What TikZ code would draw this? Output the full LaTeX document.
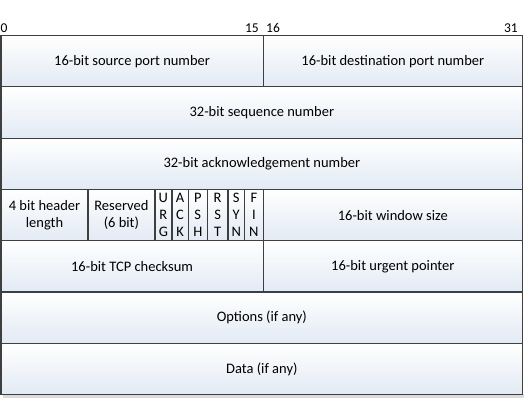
\documentclass[tikz,border=0pt]{standalone}
\usepackage{fontspec}
\setmainfont{Carlito}
\definecolor{cellbot}{HTML}{E2EAF4}
\definecolor{cellline}{HTML}{3F3F3F}
\tikzset{
  cell/.style={draw=cellline, line width=1.2pt, top color=white, bottom color=cellbot,
    inner sep=0pt, align=center, anchor=north west, font=\fontsize{14.5}{17}\selectfont},
  bitlbl/.style={inner sep=0pt, font=\fontsize{13.5}{15}\selectfont}
}
\newcommand\fld[6]{\node[cell, minimum width={#4-#2}, minimum height={#5-#3}] (#1) at (#2,#3) {#6};}
\begin{document}
\begin{tikzpicture}[x=1pt,y=-1pt]
\useasboundingbox (0,0) rectangle (525,414);
% shadow
\fill[black!14] (3,394) rectangle (524,397.5);
% bit labels
\node[bitlbl, anchor=south west] (b0) at (0.5,33) {0};
\node[bitlbl, anchor=south east] (b15) at (259,33) {15};
\node[bitlbl, anchor=south west] (b16) at (266,33) {16};
\node[bitlbl, anchor=south east] (b31) at (518,33) {31};
% row 1
\fld{src}{0.5}{35}{262.5}{86.3}{16-bit source port number}
\fld{dst}{262.5}{35}{522}{86.3}{16-bit destination port number}
% row 2
\fld{seq}{0.5}{86.3}{522}{137.6}{32-bit sequence number}
% row 3
\fld{ack}{0.5}{137.6}{522}{188.9}{32-bit acknowledgement number}
% row 4
\fld{hlen}{0.5}{188.9}{87.3}{240.1}{4 bit header\\length}
\fld{resv}{87.3}{188.9}{154.3}{240.1}{Reserved\\(6 bit)}
\fld{urg}{154.3}{188.9}{171.3}{240.1}{U\\R\\G}
\fld{ackf}{171.3}{188.9}{187.7}{240.1}{A\\C\\K}
\fld{psh}{187.7}{188.9}{206.7}{240.1}{P\\S\\H}
\fld{rst}{206.7}{188.9}{227.3}{240.1}{R\\S\\T}
\fld{syn}{227.3}{188.9}{244}{240.1}{S\\Y\\N}
\fld{fin}{244}{188.9}{262.5}{240.1}{F\\I\\N}
\fld{win}{262.5}{188.9}{522}{240.1}{16-bit window size}
% row 5
\fld{csum}{0.5}{240.1}{262.5}{291.4}{16-bit TCP checksum}
\fld{urgp}{262.5}{240.1}{522}{291.4}{16-bit urgent pointer}
% row 6
\fld{opt}{0.5}{291.4}{522}{342.7}{Options (if any)}
% row 7
\fld{data}{0.5}{342.7}{522}{394}{Data (if any)}
\end{tikzpicture}
\end{document}
